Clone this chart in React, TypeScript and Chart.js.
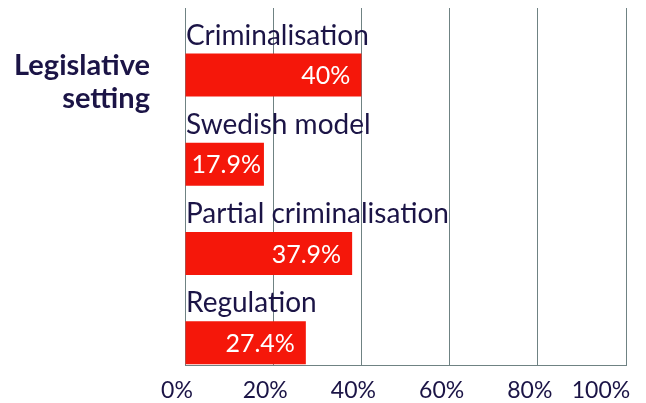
import React, { useEffect, useRef } from "react";
import { Chart, registerables } from "chart.js";

Chart.register(...registerables);

const categories = ["Criminalisation", "Swedish model", "Partial criminalisation", "Regulation"];
const values = [40, 17.9, 37.9, 27.4];
const valueLabels = ["40%", "17.9%", "37.9%", "27.4%"];
const xTicks = [0, 20, 40, 60, 80, 100];
const xTickLabels = ["0%", "20%", "40%", "60%", "80%", "100%"];
const titleLines = ["Legislative", "setting"];

const NAVY = "#1b1446";
const RED = "#f5170a";
const GRID = "#6f8283";
const FONT = "Lato, 'Noto Sans', sans-serif";

const labelPlugin = {
  id: "labelPlugin",
  afterDatasetsDraw(chart: any) {
    const ctx = chart.ctx;
    const xs = chart.scales.x;
    const ys = chart.scales.y;
    const area = chart.chartArea;
    ctx.save();
    // category labels above bars
    ctx.fillStyle = NAVY;
    ctx.font = `28px ${FONT}`;
    ctx.textAlign = "left";
    ctx.textBaseline = "alphabetic";
    categories.forEach((c, i) => {
      const cy = ys.getPixelForValue(i);
      ctx.fillText(c, area.left + 1, cy - 8);
    });
    // value labels inside bars
    const meta = chart.getDatasetMeta(1);
    ctx.fillStyle = "#ffffff";
    ctx.font = `25px ${FONT}`;
    ctx.textAlign = "right";
    ctx.textBaseline = "middle";
    meta.data.forEach((bar: any, i: number) => {
      const w = ctx.measureText(valueLabels[i]).width;
      const right = Math.max(bar.x - 11, bar.base + w + 6);
      ctx.fillText(valueLabels[i], right, bar.y + 1);
    });
    // x tick labels
    ctx.fillStyle = NAVY;
    ctx.font = `23px ${FONT}`;
    ctx.textAlign = "center";
    ctx.textBaseline = "middle";
    xTicks.forEach((t, i) => {
      let x = xs.getPixelForValue(t) - 8;
      if (i === xTicks.length - 1) x = xs.getPixelForValue(t) - 25;
      ctx.fillText(xTickLabels[i], x, area.bottom + 26);
    });
    // axis title
    ctx.font = `bold 29px ${FONT}`;
    ctx.textAlign = "right";
    ctx.textBaseline = "middle";
    const y0 = ys.getPixelForValue(0);
    ctx.fillText(titleLines[0], area.left - 35, y0 + 13);
    ctx.fillText(titleLines[1], area.left - 35, y0 + 46);
    ctx.restore();
  },
};

export default function App() {
  const ref = useRef<HTMLCanvasElement | null>(null);
  useEffect(() => {
    document.body.style.margin = "0";
    const chart = new Chart(ref.current as HTMLCanvasElement, {
      type: "bar",
      data: {
        labels: categories,
        datasets: [
          {
            data: categories.map(() => 0),
            backgroundColor: "rgba(0,0,0,0)",
            borderWidth: 0,
          },
          {
            data: values,
            backgroundColor: RED,
            borderWidth: 0,
          },
        ],
      },
      options: {
        indexAxis: "y",
        animation: false,
        responsive: true,
        maintainAspectRatio: false,
        layout: { padding: { left: 185, right: 20, top: 8, bottom: 38 } },
        datasets: { bar: { categoryPercentage: 1, barPercentage: 0.965 } },
        plugins: { legend: { display: false }, tooltip: { enabled: false } },
        scales: {
          x: {
            min: 0,
            max: 100,
            ticks: { display: false, stepSize: 20 },
            grid: { color: GRID, lineWidth: 1, drawTicks: false },
            border: { display: true, color: GRID, width: 1 },
          },
          y: {
            display: false,
          },
        },
      },
      plugins: [labelPlugin],
    } as any);
    return () => chart.destroy();
  }, []);
  return (
    <div style={{ position: "relative", width: 646, height: 403 }}>
      <canvas ref={ref} />
    </div>
  );
}
